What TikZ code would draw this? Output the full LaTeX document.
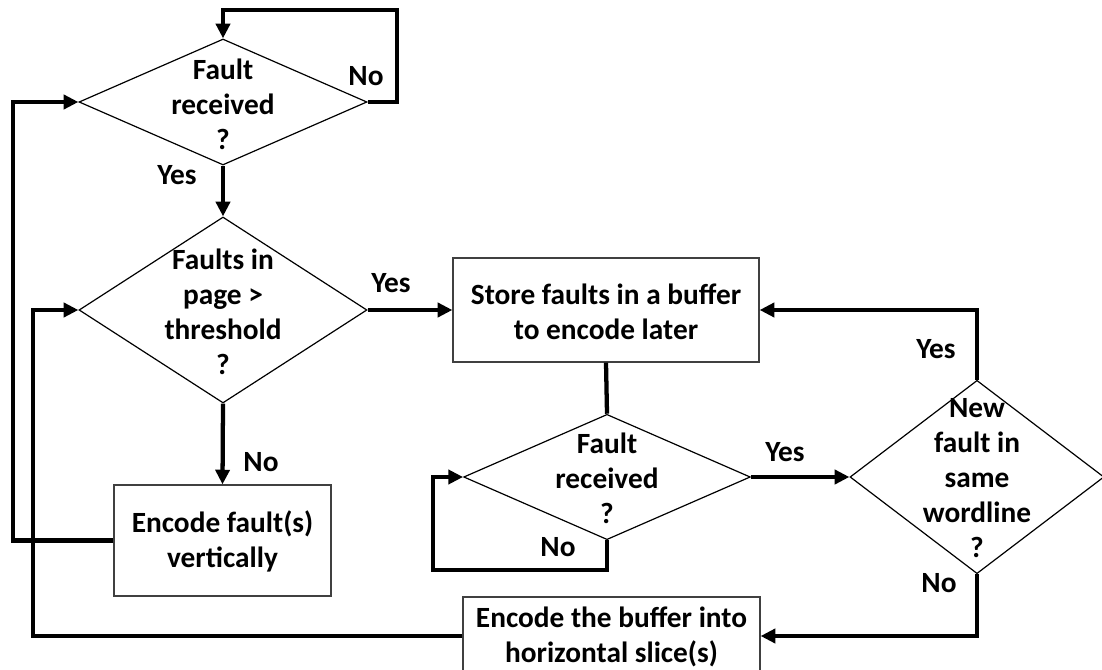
\documentclass[tikz,border=0pt]{standalone}
\usepackage{fontspec}
\setmainfont{Carlito}
\usetikzlibrary{shapes.geometric,arrows.meta}
\begin{document}
\begin{tikzpicture}[x=0.75pt,y=-0.75pt,
  every node/.style={font=\bfseries\fontsize{22}{26.25}\selectfont},
  dia/.style={diamond,draw,line width=0.9pt,inner sep=0pt},
  box/.style={rectangle,draw=black!75,line width=0.9pt,inner sep=0pt},
  txt/.style={align=center,inner sep=0pt},
  lbl/.style={inner sep=0pt},
  flow/.style={line width=3.2pt,line join=miter},
  arr/.style={flow,-{Triangle[length=11pt,width=10.5pt]}}]
\useasboundingbox (0,0) rectangle (1102,670);

% decisions
\node[dia,minimum width=216pt,minimum height=94.5pt] (d1) at (223,102) {};
\node[txt] (d1t) at (223,104) {Fault\\received\\?};
\node[dia,minimum width=216pt,minimum height=139.5pt] (d2) at (223,310) {};
\node[txt] (d2t) at (223,312) {Faults in\\page >\\threshold\\?};
\node[dia,minimum width=215pt,minimum height=94pt] (d3) at (607,477) {};
\node[txt] (d3t) at (607,478) {Fault\\received\\?};
\node[dia,minimum width=190.5pt,minimum height=145pt] (d4) at (977,477) {};
\node[txt] (d4t) at (977,478) {New\\fault in\\same\\wordline\\?};

% processes
\node[box,minimum width=162.75pt,minimum height=83.25pt] (b1) at (222.5,540.5) {};
\node[txt] (b1t) at (222.5,541) {Encode fault(s)\\vertically};
\node[box,minimum width=229.5pt,minimum height=78pt] (st) at (606,310) {};
\node[txt] (stt) at (606,312) {Store faults in a buffer\\to encode later};
\node[box,minimum width=222.75pt,minimum height=58.5pt] (bf) at (611.5,636) {};
\node[txt] (bft) at (611.5,637) {Encode the buffer into\\horizontal slice(s)};

% corner points of the loops
\coordinate (t1) at (397,10);
\coordinate (l1) at (13,102);
\coordinate (l2) at (33,310);
\coordinate (l3) at (433,570);

% connectors
\draw[arr] (d1.east) -| (t1) -| (d1.north);
\draw[arr] (d1.south) -- (d2.north);
\draw[arr] (d2.east) -- (st.west);
\draw[arr] (d2.south) -- (b1.north);
\draw[arr] (b1.west) -| (l1) -- (d1.west);
\draw[arr] (bf.west) -| (l2) -- (d2.west);
\draw[flow] (st.south) -- (d3.north);
\draw[arr] (d3.south) |- (l3) |- (d3.west);
\draw[arr] (d3.east) -- (d4.west);
\draw[arr] (d4.north) |- (st.east);
\draw[arr] (d4.south) |- (bf.east);

% branch labels
\node[lbl] (n1) at (366,76) {No};
\node[lbl] (y1) at (177,175) {Yes};
\node[lbl] (y2) at (391,283) {Yes};
\node[lbl] (n2) at (261,462) {No};
\node[lbl] (n3) at (558,547) {No};
\node[lbl] (y3) at (785,452) {Yes};
\node[lbl] (y4) at (936,349) {Yes};
\node[lbl] (n4) at (939,583) {No};
\end{tikzpicture}
\end{document}
